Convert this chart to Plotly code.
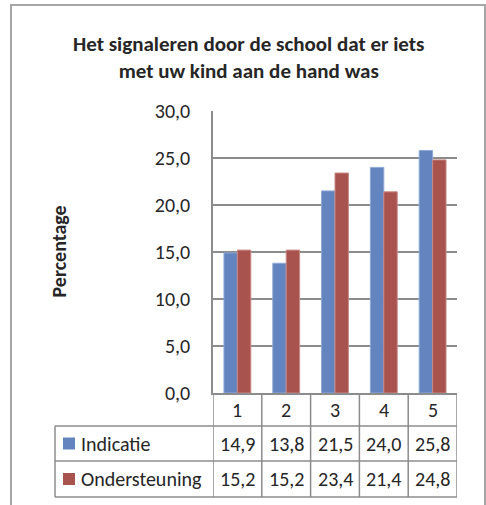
import plotly.graph_objects as go

categories = ["1", "2", "3", "4", "5"]
indicatie = [14.9, 13.8, 21.5, 24.0, 25.8]
ondersteuning = [15.2, 15.2, 23.4, 21.4, 24.8]
series_names = ["Indicatie", "Ondersteuning"]
colors = ["#6384be", "#a9534f"]
edge_colors = ["#8ea9d8", "#c98884"]

W, H = 486, 505
L, R, T, B = 213, 457, 111, 393
PW, PH = R - L, B - T
FONT = "Carlito, Lato, sans-serif"
GRID = "#8c8c8c"
TXT = "#262626"


def py(ypx):
    return (B - ypx) / PH


def px(xpx):
    return (xpx - L) / PW


fig = go.Figure()
for name, vals, c, ec in zip(series_names, [indicatie, ondersteuning], colors, edge_colors):
    fig.add_trace(go.Bar(x=list(range(len(categories))), y=vals, name=name,
                         marker=dict(color=c, line=dict(color=ec, width=1))))

shapes = []
# outer chart border
shapes.append(dict(type="rect", xref="paper", yref="paper", x0=px(11), x1=px(485), y0=py(520), y1=py(5),
                   line=dict(color="#a6a6a6", width=2), layer="below"))
# vertical table lines at category boundaries
for i in range(len(categories) + 1):
    shapes.append(dict(type="line", xref="x", yref="paper", x0=i - 0.5, x1=i - 0.5, y0=py(393), y1=py(497),
                       line=dict(color=GRID, width=1.5)))
# left edge of legend column
shapes.append(dict(type="line", xref="paper", yref="paper", x0=px(55), x1=px(55), y0=py(426), y1=py(497),
                   line=dict(color=GRID, width=1.5)))
for ypx in (426, 461, 497):
    shapes.append(dict(type="line", xref="paper", yref="paper", x0=px(55), x1=1, y0=py(ypx), y1=py(ypx),
                       line=dict(color=GRID, width=1.5)))
# legend keys
row_centers = [443.5, 479]
for yc, c in zip(row_centers, colors):
    shapes.append(dict(type="rect", xref="paper", yref="paper", x0=px(63), x1=px(75), y0=py(yc + 6), y1=py(yc - 6),
                       fillcolor=c, line=dict(width=0)))

annotations = []
# category row
for i, cat in enumerate(categories):
    annotations.append(dict(xref="x", yref="paper", x=i, y=py(409.5), text=cat, showarrow=False,
                            xanchor="center", yanchor="middle", font=dict(family=FONT, size=20, color=TXT)))
for yc, name, vals in zip(row_centers, series_names, [indicatie, ondersteuning]):
    annotations.append(dict(xref="paper", yref="paper", x=px(79), y=py(yc), text=name, showarrow=False,
                            xanchor="left", yanchor="middle", font=dict(family=FONT, size=20, color=TXT)))
    for i, v in enumerate(vals):
        annotations.append(dict(xref="x", yref="paper", x=i, y=py(yc), text=f"{v:.1f}".replace(".", ","),
                                showarrow=False, xanchor="center", yanchor="middle",
                                font=dict(family=FONT, size=20, color=TXT)))
annotations.append(dict(xref="paper", yref="paper", x=px(58.5), y=py(252), text="<b>Percentage</b>", textangle=-90,
                        showarrow=False, xanchor="center", yanchor="middle",
                        font=dict(family=FONT, size=20, color=TXT)))
annotations.append(dict(xref="paper", yref="paper", x=px(248), y=py(57),
                        text="<b>Het signaleren door de school dat er iets<br>met uw kind aan de hand was</b>",
                        showarrow=False, xanchor="center", yanchor="middle",
                        font=dict(family=FONT, size=21, color=TXT)))

fig.update_layout(
    width=W, height=H,
    margin=dict(l=L, r=W - R, t=T, b=H - B, pad=0),
    paper_bgcolor="white", plot_bgcolor="white",
    barmode="group", bargap=0.45, bargroupgap=0,
    showlegend=False,
    separators=", ",
    font=dict(family=FONT, size=19, color=TXT),
    shapes=shapes, annotations=annotations,
    xaxis=dict(showgrid=False, showline=True, linecolor=GRID, linewidth=1.5, zeroline=False,
               ticks="", showticklabels=False, range=[-0.5, len(categories) - 0.5]),
    yaxis=dict(range=[0, 30], dtick=5, tickformat=".1f", showgrid=True, gridcolor=GRID, gridwidth=1.5,
               showline=True, linecolor=GRID, linewidth=1.5, zeroline=False, ticks="",
               ticklabelstandoff=17, tickfont=dict(family=FONT, size=20, color=TXT)),
)

fig.write_html("out.html", config={"displayModeBar": False},
               post_script="document.body.style.margin='0';")
